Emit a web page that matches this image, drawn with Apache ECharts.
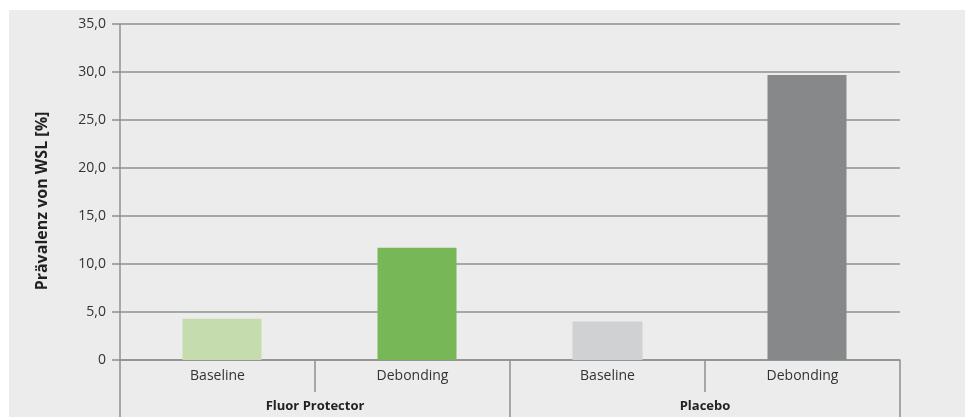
<!DOCTYPE html>
<html>
<head>
<meta charset="utf-8">
<script src="https://cdn.jsdelivr.net/npm/echarts@6/dist/echarts.min.js"></script>
<style>
  html, body { margin: 0; padding: 0; background: #fff; }
  #wrap { position: absolute; left: 9px; top: 10px; width: 956px; height: 407px; background: #ebeceb; }
  #main { width: 956px; height: 407px; }
</style>
</head>
<body>
<div id="wrap"><div id="main"></div></div>
<script>
// Daten
const categories = ['Baseline', 'Debonding', 'Baseline', 'Debonding'];
const groups = ['Fluor Protector', 'Placebo'];
const values = [4.3, 11.7, 4.0, 29.7];
const barColors = ['#c5ddae', '#78b757', '#d0d1d2', '#878889'];

const gridColor = '#8f9090';
const font = 'Open Sans';

// placebo baseline bar is a bit narrower in the original
let wideData = values.map((v, i) => i === 2 ? null : { value: v, itemStyle: { color: barColors[i] } });
let narrowData = values.map((v, i) => i === 2 ? { value: v, itemStyle: { color: barColors[i] } } : null);

let chart = echarts.init(document.getElementById('main'), null, { renderer: 'canvas' });

let option = {
        animation: false,
        grid: {
                left: 111,
                right: 65,
                top: 14,
                bottom: 57
        },
        xAxis: [{
                type: 'category',
                data: categories,
                position: 'bottom',
                axisLine: { show: true, lineStyle: { color: gridColor, width: 1.5 } },
                axisTick: { show: true, length: 32, interval: 0, lineStyle: { color: gridColor, width: 1.5 } },
                axisLabel: { interval: 0, margin: 9, color: '#333', fontFamily: font, fontSize: 14 },
                splitLine: { show: false }
        }, {
                type: 'category',
                data: groups,
                position: 'bottom',
                axisLine: { show: false },
                axisTick: { show: true, length: 57, interval: 0, lineStyle: { color: gridColor, width: 1.5 } },
                axisLabel: { interval: 0, margin: 40, color: '#222', fontFamily: font, fontSize: 13, fontWeight: 'bold' },
                splitLine: { show: false }
        }],
        yAxis: {
                type: 'value',
                min: 0,
                max: 35,
                interval: 5,
                name: 'Prävalenz von WSL [%]',
                nameLocation: 'middle',
                nameRotate: 90,
                nameGap: 70,
                nameTextStyle: { color: '#222', fontFamily: font, fontSize: 16, fontWeight: 'bold', padding: [0, 18, 0, 0] },
                axisLine: { show: true, lineStyle: { color: gridColor, width: 1.5 } },
                axisTick: { show: true, length: 8, lineStyle: { color: gridColor, width: 1.5 } },
                axisLabel: {
                        margin: 14,
                        color: '#333',
                        fontFamily: font,
                        fontSize: 14,
                        formatter: function (v) {
                                return v === 0 ? '0' : v.toFixed(1).replace('.', ',');
                        }
                },
                splitLine: { show: true, lineStyle: { color: gridColor, width: 1.5 } }
        },
        series: [{
                type: 'bar',
                xAxisIndex: 0,
                barWidth: 79,
                barGap: '-100%',
                data: wideData
        }, {
                type: 'bar',
                xAxisIndex: 0,
                barWidth: 70,
                barGap: '-100%',
                data: narrowData
        }]
};

chart.setOption(option);
</script>
</body>
</html>
